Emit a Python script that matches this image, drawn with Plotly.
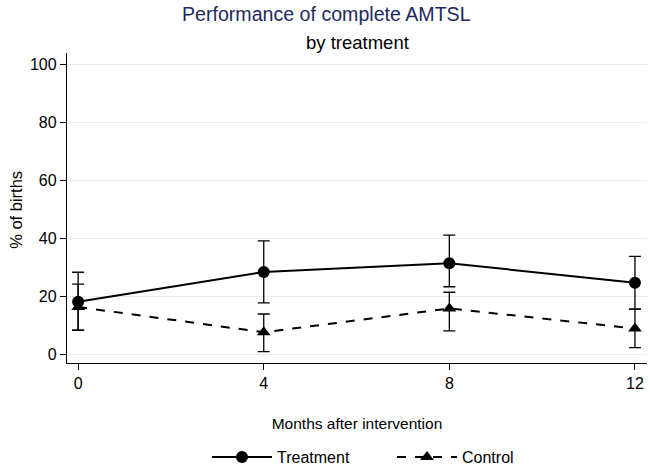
import plotly.graph_objects as go

months = [0, 4, 8, 12]

treat_pct = [18.0, 28.3, 31.3, 24.6]
treat_lo = [8.2, 17.6, 23.2, 15.5]
treat_hi = [28.2, 39.0, 41.0, 33.7]

ctrl_pct = [16.2, 7.5, 15.7, 8.8]
ctrl_lo = [8.2, 0.8, 8.0, 2.2]
ctrl_hi = [24.1, 13.8, 21.3, 15.5]

y_ticks = [0, 20, 40, 60, 80, 100]


def err(vals, lo, hi):
    # asymmetric error bars from the CI bounds
    return dict(type="data", symmetric=False,
                array=[h - v for v, h in zip(vals, hi)],
                arrayminus=[v - l for v, l in zip(vals, lo)],
                color="black", thickness=1.3, width=6)


fig = go.Figure()
fig.add_trace(go.Scatter(
    x=months, y=treat_pct, name="Treatment", mode="lines+markers",
    line=dict(color="black", width=2),
    marker=dict(symbol="circle", size=12, color="black"),
    error_y=err(treat_pct, treat_lo, treat_hi), cliponaxis=False))
fig.add_trace(go.Scatter(
    x=months, y=ctrl_pct, name="Control", mode="lines+markers",
    line=dict(color="black", width=2, dash="dash"),
    marker=dict(symbol="triangle-up", size=12, color="black"),
    error_y=err(ctrl_pct, ctrl_lo, ctrl_hi), cliponaxis=False))

fig.update_layout(
    width=650, height=466,
    margin=dict(l=67, r=3, t=53, b=103),
    paper_bgcolor="white", plot_bgcolor="white",
    font=dict(family="Liberation Sans, Arial", color="black", size=15),
    showlegend=True,
    legend=dict(orientation="h", xref="container", yref="container",
                x=207 / 650, xanchor="left", y=0.019, yanchor="middle",
                itemwidth=60, entrywidth=110, font=dict(size=16)),
    annotations=[
        dict(text="Performance of complete AMTSL", xref="paper", yref="paper",
             x=(326 - 67) / 580, y=1, yshift=39, xanchor="center",
             yanchor="middle", showarrow=False,
             font=dict(size=19.6, color="#1c2a5e")),
        dict(text="by treatment", xref="paper", yref="paper",
             x=0.5, y=1, yshift=11, xanchor="center", yanchor="middle",
             showarrow=False, font=dict(size=18.5)),
        # y axis title, placed by hand so the margin stays fixed
        dict(text="% of births", xref="paper", yref="paper",
             x=0, xshift=-51, y=0.494, xanchor="center", yanchor="middle",
             textangle=-90, showarrow=False, font=dict(size=16.5)),
    ],
)
fig.update_xaxes(
    range=[-0.24, 12.26], tickvals=months, showgrid=False, zeroline=False,
    showline=True, linecolor="black", linewidth=1.3,
    ticks="outside", ticklen=6, tickcolor="black", tickfont=dict(size=16),
    automargin=False,
    title=dict(text="Months after intervention", standoff=26,
               font=dict(size=15.5)))
fig.update_yaxes(
    range=[-3.1, 103.8], tickvals=y_ticks, showgrid=True,
    gridcolor="#e6eef1", gridwidth=1, zeroline=False,
    showline=True, linecolor="black", linewidth=1.3,
    ticks="outside", ticklen=6, tickcolor="black", tickfont=dict(size=16),
    automargin=False)

# drop the browser's default body margin so the figure sits at 0,0
fig.write_html("out.html", config={"displayModeBar": False},
               post_script="document.body.style.margin='0';")
